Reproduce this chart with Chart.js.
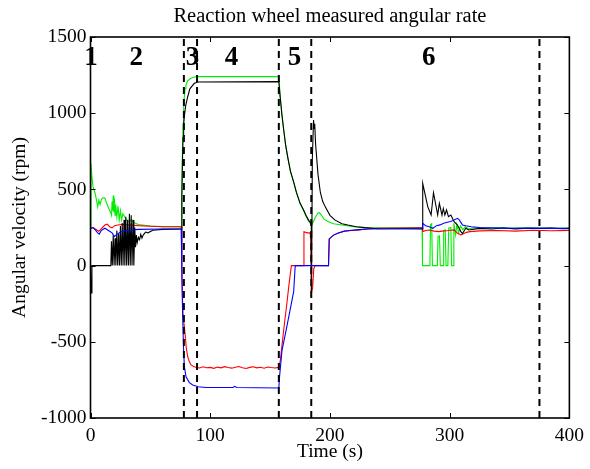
<!DOCTYPE html>
<html>
<head>
<meta charset="utf-8">
<script src="https://cdn.jsdelivr.net/npm/chart.js@4.4.1/dist/chart.umd.min.js"></script>
<style>
  html, body { margin: 0; padding: 0; background: #fff; }
  #chart { display: block; }
</style>
</head>
<body>
<canvas id="chart" width="590" height="469"></canvas>
<script>
// wheel 1 (black)
const wheel1Time = [0, 0.5, 1.2,
  17, 17.5, 18.2, 19, 19.7, 20.5, 21.2, 22, 22.7, 23.5, 24.2, 25, 25.7, 26.5, 27.2, 28, 28.7, 29.5, 30.2, 31, 31.7, 32.5, 33.2, 34, 34.7, 35.5, 36.2, 37,
  37.6, 38.3, 39, 40, 41, 42, 43, 44, 46, 48, 52, 60,
  75.8, 76.3, 76.8, 77.3, 77.8, 78.4, 79.5, 81.2, 83, 86.7, 90,
  157.3, 158.5, 160, 161.4, 163, 165, 167, 170, 172, 175, 178, 180, 182, 184.4,
  184.6, 185.3, 186.3, 186.8, 187.3, 188, 190, 192, 194, 196, 200, 204, 210, 215, 222, 229, 240,
  277, 277.5, 281.7, 284.5, 286.5, 290, 291.4, 293.6, 294.7, 296, 297.4, 299, 301, 303.7, 306.5, 309.4, 310.7, 313.5, 316,
  325, 335, 345, 355, 365, 375, 385, 395, 400];
const wheel1Rate = [0, -180, 0,
  0, 160, 0, 200, 0, 180, 0, 230, 0, 210, 0, 260, 0, 280, 0, 300, 0, 320, 0, 300, 0, 340, 0, 330, 0, 300, 0, 250,
  120, 200, 150, 185, 170, 205, 180, 200, 220, 215, 232, 238,
  240, 450, 680, 840, 930, 980, 1050, 1108, 1160, 1196, 1205,
  1207, 1100, 980, 890, 790, 700, 620, 540, 480, 410, 365, 330, 300, 275,
  -180, 700, 955, 900, 930, 800, 600, 480, 420, 387, 330, 300, 275, 266, 255, 249, 242,
  240, 540, 387, 332, 478, 332, 409, 332, 375, 332, 365, 321, 332, 288, 266, 223, 210, 245, 234,
  244, 240, 247, 241, 245, 243, 246, 242, 244];

// wheel 2 (green)
const wheel2Time = [0, 0.4, 1, 2, 3, 4, 5, 6, 7, 8, 9, 10, 12, 13, 15, 17, 17.6, 18, 18.5, 19,
  19.5, 20, 20.5, 21, 22, 23, 24, 25, 26, 27, 28.6, 30, 32, 34, 37, 40, 45, 50, 60,
  75.8, 76.3, 76.8, 77.3, 77.8, 78.4, 79, 79.7, 81, 83.8, 87, 90,
  157.3, 158.5, 160, 161.4, 163, 165, 167, 170, 172, 175, 178, 180, 182, 184.4,
  186, 188, 190, 191.3, 193, 195, 198.8, 203, 210, 220, 230, 277,
  277.3, 283.5, 284, 285, 285.6, 289.7, 290.3, 291.5, 292.2, 294.5, 295, 296.3, 297, 298.5,
  299.2, 301, 301.6, 303, 303.5, 305, 306, 307.5, 309, 311, 313, 316, 320,
  330, 340, 350, 360, 370, 380, 390, 400];
const wheel2Rate = [250, 670, 600, 520, 496, 470, 430, 386, 430, 400, 430, 445, 443, 420, 380, 345, 330, 420, 360, 460,
  350, 440, 330, 400, 320, 390, 300, 360, 300, 340, 321, 300, 290, 300, 280, 270, 265, 260, 256,
  255, 500, 750, 930, 1040, 1110, 1160, 1185, 1210, 1229, 1238, 1240,
  1240, 1110, 985, 890, 790, 700, 620, 540, 480, 410, 360, 325, 295, 268,
  285, 320, 345, 347, 330, 305, 288, 275, 266, 255, 250, 248,
  0, 0, 270, 275, 0, 0, 190, 195, 0, 0, 230, 235, 0, 0,
  245, 250, 0, 0, 278, 200, 270, 215, 260, 235, 255, 240, 248,
  246, 249, 245, 248, 246, 247, 245, 247];

// wheel 3 (red)
const wheel3Time = [0, 2, 4, 7, 10, 12, 14, 16, 18, 20, 23, 26, 30, 35, 40, 50, 60,
  75.8, 76.3, 76.8, 77.3, 78.4, 79.2, 80, 81.2, 82.5, 84, 86, 88,
  91, 94, 97, 100, 103, 106, 109, 112, 115, 118, 121, 124, 127, 130, 133, 136, 139, 142, 145, 148, 151, 154, 157.3,
  158.6, 160, 162, 164, 166, 167.8, 178, 178.3, 181, 183.5, 184, 184.4, 185.5, 186.5, 187.7,
  198.8, 199.6, 203, 207, 212, 218, 223.6, 230, 240, 277,
  277.5, 280, 283, 287, 291, 295, 299, 303.7, 306.6, 309.4, 312, 314, 317, 325, 340, 355, 370, 385, 400];
const wheel3Rate = [240, 250, 240, 225, 250, 266, 272, 255, 248, 262, 266, 270, 268, 265, 262, 258, 255,
  255, 20, -200, -330, -400, -466, -540, -598, -630, -652, -662, -667,
  -672, -664, -670, -668, -674, -666, -671, -663, -669, -673, -667, -662, -670, -675, -668, -664, -671, -667, -673, -665, -669, -672, -668,
  -620, -520, -380, -250, -110, 0, 0, 222, 215, 215, 150, -182, -150, -20, 0,
  0, 175, 200, 214, 225, 230, 233, 240, 245, 248,
  223, 230, 234, 226, 223, 228, 230, 234, 212, 201, 210, 218, 223, 228, 230, 226, 232, 229, 231];

// wheel 4 (blue)
const wheel4Time = [0, 2, 4, 6, 7.3, 9, 12, 14, 16, 18, 20, 22, 25, 30, 40, 60,
  75.8, 76.3, 77, 77.7, 78.4, 79.8, 82.6, 85.3, 90, 96.4, 119, 120.5, 122, 157.3,
  158, 160, 163, 166, 169.7, 171, 198.8, 199.3, 203, 207, 212, 218, 224, 232, 277,
  277.5, 280, 283, 286, 289, 292, 295, 298, 301, 303.7, 306.6, 308, 310.7, 313.5, 318, 325, 340, 355, 370, 385, 400];
const wheel4Rate = [245, 250, 235, 215, 207, 230, 245, 235, 225, 215, 190, 205, 220, 230, 238, 240,
  240, -60, -335, -540, -663, -729, -768, -783, -795, -800, -800, -792, -800, -803,
  -720, -554, -440, -320, -171, 0, 0, 175, 200, 214, 226, 232, 236, 240, 245,
  278, 261, 255, 245, 262, 267, 278, 285, 289, 300, 310, 300, 267, 261, 255, 250, 247, 245, 246, 244, 245];

// phase boundaries and phase numbers
const phaseBounds = [78, 89, 157.3, 184.4, 375];
const phaseNames = ['1', '2', '3', '4', '5', '6'];
const phaseNameTime = [0.4, 38.3, 85.3, 117.8, 170.5, 282.6];
const phaseNameRate = 1365;

const chartTitle = 'Reaction wheel measured angular rate';
const serif = '"Liberation Serif", "Times New Roman", serif';

const toPoints = (t, v) => t.map((x, i) => ({ x: x, y: v[i] }));

const series = [
  { label: 'wheel 2', data: toPoints(wheel2Time, wheel2Rate), borderColor: '#00ee00', order: 5 },
  { label: 'wheel 3', data: toPoints(wheel3Time, wheel3Rate), borderColor: '#ff0000', order: 4 },
  { label: 'wheel 1', data: toPoints(wheel1Time, wheel1Rate), borderColor: '#000000', order: 3 },
  { label: 'wheel 4', data: toPoints(wheel4Time, wheel4Rate), borderColor: '#0000ff', order: 2 }
].map(s => Object.assign(s, { borderWidth: 1.1 }));

const bounds = phaseBounds.map(b => ({
  label: 'phase ' + b,
  data: [{ x: b, y: -1000 }, { x: b, y: 1500 }],
  borderColor: '#000',
  borderWidth: 2,
  borderDash: [7, 5],
  order: 1
}));

// box round the plot, inward ticks on all four sides, title and phase numbers
const frame = {
  id: 'frame',
  afterDraw(chart) {
    const { ctx, chartArea: a, scales: { x, y } } = chart;
    ctx.save();
    ctx.strokeStyle = '#000';
    ctx.lineWidth = 1;
    ctx.beginPath();
    x.ticks.forEach(t => {
      const px = Math.round(x.getPixelForValue(t.value)) + 0.5;
      ctx.moveTo(px, a.bottom); ctx.lineTo(px, a.bottom - 5);
      ctx.moveTo(px, a.top); ctx.lineTo(px, a.top + 5);
    });
    y.ticks.forEach(t => {
      const py = Math.round(y.getPixelForValue(t.value)) + 0.5;
      ctx.moveTo(a.left, py); ctx.lineTo(a.left + 5, py);
      ctx.moveTo(a.right, py); ctx.lineTo(a.right - 5, py);
    });
    ctx.stroke();
    ctx.lineWidth = 1.6;
    ctx.strokeRect(a.left, a.top, a.right - a.left, a.bottom - a.top);

    ctx.fillStyle = '#000';
    ctx.textAlign = 'center';
    ctx.font = '20.5px ' + serif;
    ctx.textBaseline = 'alphabetic';
    ctx.fillText(chartTitle, (a.left + a.right) / 2, 22);

    ctx.font = 'bold 27px ' + serif;
    ctx.textBaseline = 'middle';
    phaseNames.forEach((n, i) => {
      ctx.fillText(n, x.getPixelForValue(phaseNameTime[i]), y.getPixelForValue(phaseNameRate));
    });
    ctx.restore();
  }
};

new Chart(document.getElementById('chart'), {
  type: 'line',
  data: { datasets: series.concat(bounds) },
  options: {
    responsive: false,
    animation: false,
    parsing: false,
    elements: { point: { radius: 0 }, line: { tension: 0 } },
    layout: { padding: { left: 0, right: 17, top: 37, bottom: 0 } },
    plugins: {
      legend: { display: false },
      tooltip: { enabled: false },
      title: { display: false }
    },
    scales: {
      x: {
        type: 'linear',
        min: 0,
        max: 400,
        afterFit(scale) { scale.height = 51; },
        grid: { display: false, drawTicks: false },
        border: { display: false },
        ticks: {
          stepSize: 100, color: '#000', padding: 6,
          font: { family: serif, size: 19.5 },
          callback: v => String(v)
        },
        title: {
          display: true,
          text: 'Time (s)',
          color: '#000',
          font: { family: serif, size: 19.5 },
          padding: { top: 0, bottom: 5 }
        }
      },
      y: {
        min: -1000,
        max: 1500,
        afterFit(scale) { scale.width = 90.5; },
        grid: { display: false, drawTicks: false },
        border: { display: false },
        ticks: {
          stepSize: 500, color: '#000', padding: 4,
          font: { family: serif, size: 19.5 },
          callback: v => String(v)
        },
        title: {
          display: true,
          text: 'Angular velocity (rpm)',
          color: '#000',
          font: { family: serif, size: 19.5 },
          padding: { top: 8, bottom: 0 }
        }
      }
    }
  },
  plugins: [frame]
});
</script>
</body>
</html>
